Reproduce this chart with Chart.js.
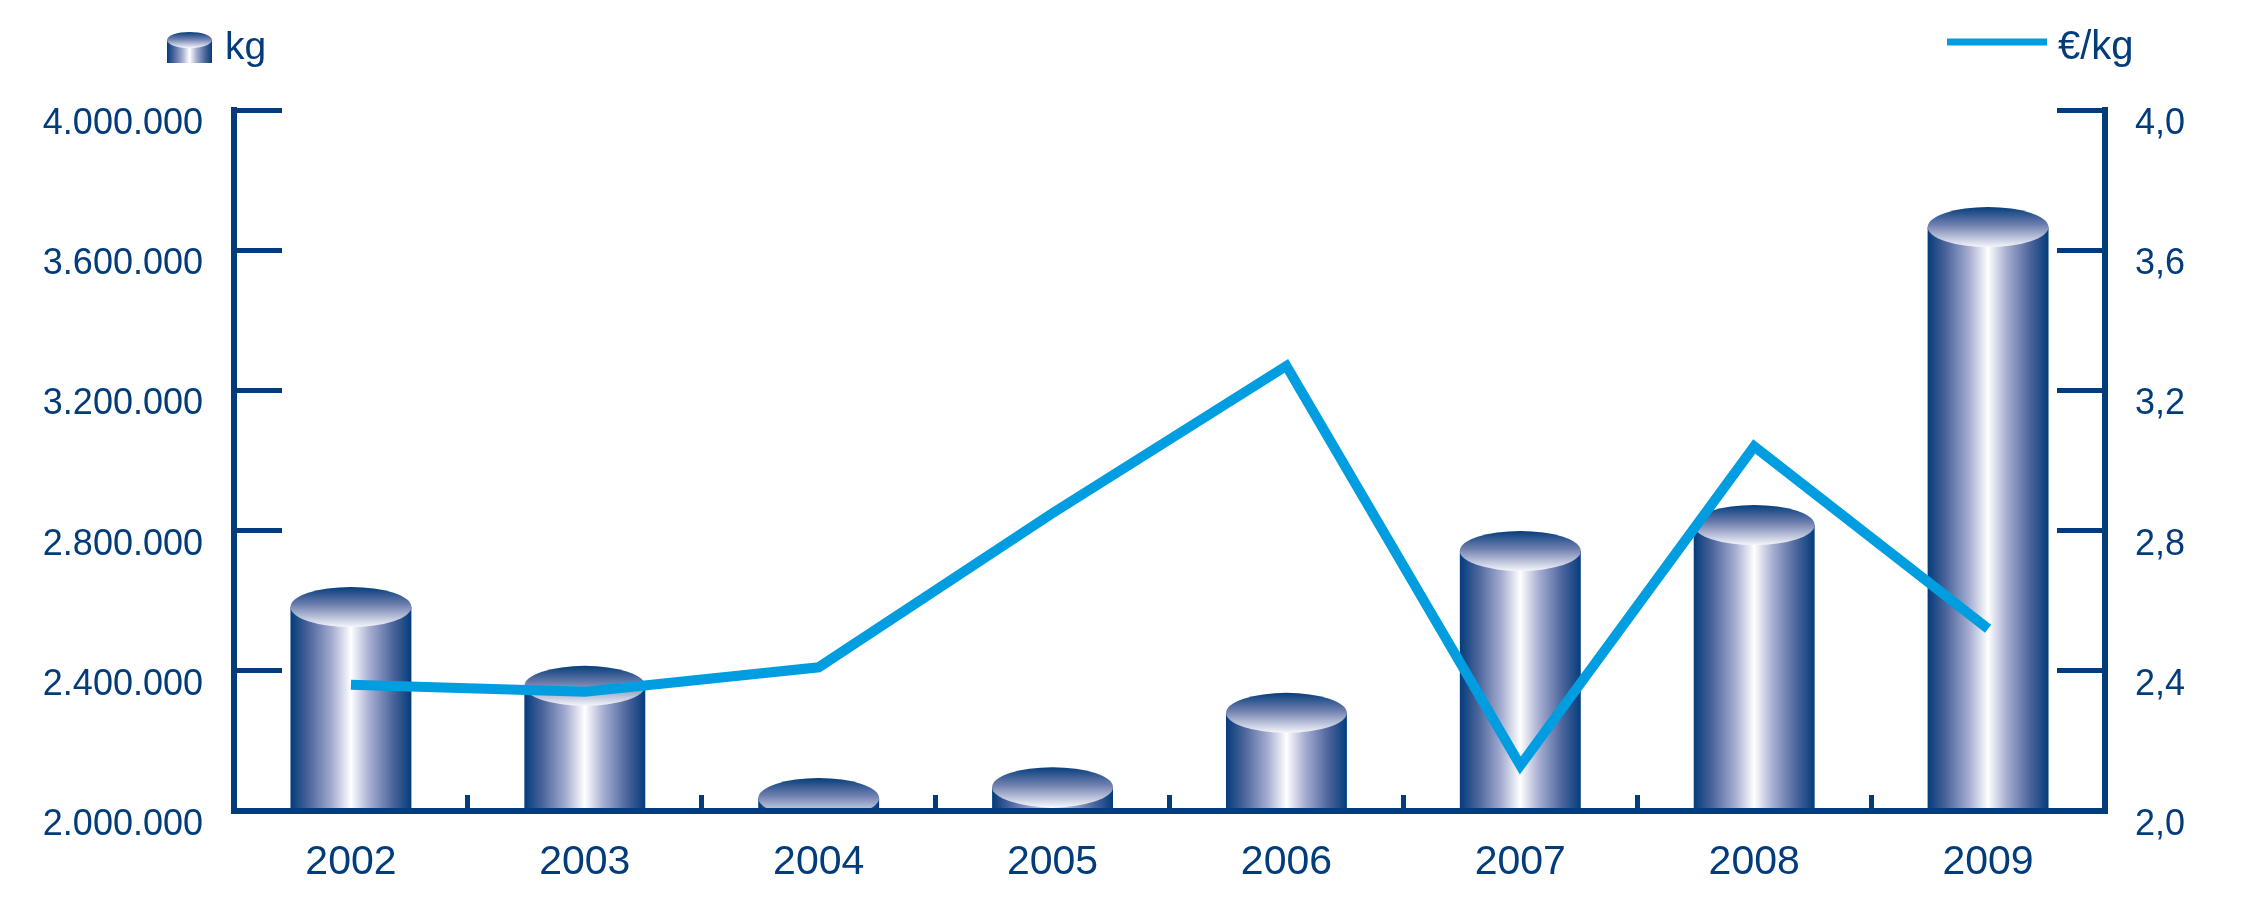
<!DOCTYPE html>
<html>
<head>
<meta charset="utf-8">
<script src="https://cdn.jsdelivr.net/npm/chart.js@4/dist/chart.umd.min.js"></script>
<style>
  html, body { margin: 0; padding: 0; background: #ffffff; }
  #wrap { width: 2250px; height: 901px; }
</style>
</head>
<body>
<div id="wrap"><canvas id="myChart" width="2250" height="901"></canvas></div>
<script>
// ===========================
// DATA
// ===========================
const years = ["2002", "2003", "2004", "2005", "2006", "2007", "2008", "2009"];
const kgValues = [2582000, 2357000, 2037000, 2068000, 2280000, 2742000, 2816000, 3666000];
const pricePerKg = [2.36, 2.34, 2.41, 2.85, 3.27, 2.13, 3.04, 2.52];

const kgTicks = [2000000, 2400000, 2800000, 3200000, 3600000, 4000000];
const priceTicks = [2.0, 2.4, 2.8, 3.2, 3.6, 4.0];

const kgLabel = "kg";
const priceLabel = "€/kg";

// ===========================
// STYLE
// ===========================
const NAVY = "#033c7b";
const CYAN = "#009ee0";
const FONT = "'Liberation Sans', Arial, sans-serif";

// 4000000 -> "4.000.000"
function formatDots(v) {
    return String(Math.round(v)).replace(/\B(?=(\d{3})+(?!\d))/g, ".");
}

// 2.4 -> "2,4"
function formatComma(v) {
    return v.toFixed(1).replace(".", ",");
}

// fixed axis sizes so the plot area lands where the original has it
function fixBox(s, size) {
    if (s.isHorizontal()) s.height = size; else s.width = size;
    s.paddingTop = 0;
    s.paddingBottom = 0;
    s.paddingLeft = 0;
    s.paddingRight = 0;
}

// DRAW ONE SHADED CYLINDER (body + top ellipse)
function drawCylinder(ctx, left, top, w, h, ry) {
    let g = ctx.createLinearGradient(left, 0, left + w, 0);
    g.addColorStop(0, "#033c7b");
    g.addColorStop(0.15, "#4b649b");
    g.addColorStop(0.34, "#a3abcf");
    g.addColorStop(0.5, "#ffffff");
    g.addColorStop(0.66, "#a3abcf");
    g.addColorStop(0.85, "#4b649b");
    g.addColorStop(1, "#033c7b");
    ctx.fillStyle = g;
    ctx.fillRect(left, top, w, h);

    let eg = ctx.createLinearGradient(0, top - ry, 0, top + ry);
    eg.addColorStop(0, "#063e7c");
    eg.addColorStop(0.45, "#7080af");
    eg.addColorStop(1, "#f5f6fb");
    ctx.fillStyle = eg;
    ctx.beginPath();
    ctx.ellipse(left + w / 2, top, w / 2, ry, 0, 0, Math.PI * 2);
    ctx.fill();
}

// bars are laid out by chart.js, drawn here as cylinders
const cylinderPlugin = {
    id: "cylinders",
    afterDatasetDraw(chart, args) {
        if (args.index !== 0) return;
        const ctx = chart.ctx;
        const area = chart.chartArea;
        ctx.save();
        ctx.beginPath();
        ctx.rect(area.left, 0, area.right - area.left, area.bottom - 3);
        ctx.clip();
        args.meta.data.forEach(bar => {
            const p = bar.getProps(["x", "y", "base", "width"], true);
            drawCylinder(ctx, p.x - p.width / 2, p.y, p.width, p.base - 3 - p.y, 20);
        });
        ctx.restore();
    }
};

// legend: cylinder + "kg" top left, line + "€/kg" top right
const legendPlugin = {
    id: "customLegend",
    afterDraw(chart) {
        const ctx = chart.ctx;
        ctx.save();
        drawCylinder(ctx, 167, 40, 45, 23, 8);

        ctx.fillStyle = NAVY;
        ctx.font = "39px " + FONT;
        ctx.textBaseline = "alphabetic";
        ctx.textAlign = "left";
        ctx.fillText(chart.data.datasets[0].label, 225, 59);

        ctx.strokeStyle = CYAN;
        ctx.lineWidth = 7;
        ctx.beginPath();
        ctx.moveTo(1947, 42);
        ctx.lineTo(2047, 42);
        ctx.stroke();

        ctx.font = "40px " + FONT;
        ctx.fillText(chart.data.datasets[1].label, 2058, 59);
        ctx.restore();
    }
};

// =============== CHART ===============
function plotGraph() {
    let ctx = document.getElementById("myChart").getContext("2d");

    new Chart(ctx, {
        type: "bar",
        data: {
            labels: years,
            datasets: [{
                type: "bar",
                label: kgLabel,
                data: kgValues,
                yAxisID: "y",
                backgroundColor: "rgba(0,0,0,0)",
                borderWidth: 0,
                categoryPercentage: 1,
                barPercentage: 0.517,
                order: 2
            }, {
                type: "line",
                label: priceLabel,
                data: pricePerKg,
                yAxisID: "y1",
                borderColor: CYAN,
                borderWidth: 10,
                borderJoinStyle: "miter",
                borderCapStyle: "butt",
                tension: 0,
                fill: false,
                pointRadius: 0,
                order: 1
            }]
        },
        options: {
            responsive: false,
            animation: false,
            devicePixelRatio: 1,
            layout: { padding: { top: 110, left: 0, right: 0, bottom: 0 } },
            plugins: {
                legend: { display: false },
                tooltip: { enabled: false }
            },
            scales: {
                x: {
                    offset: true,
                    afterFit: s => fixBox(s, 90),
                    border: { display: true, color: NAVY, width: 6 },
                    grid: {
                        offset: true,
                        drawOnChartArea: false,
                        drawTicks: true,
                        tickLength: -16,
                        tickWidth: 5,
                        tickColor: NAVY,
                        color: NAVY
                    },
                    ticks: {
                        color: NAVY,
                        font: { family: FONT, size: 41 },
                        padding: 43,
                        maxRotation: 0
                    }
                },
                y: {
                    position: "left",
                    min: kgTicks[0],
                    max: kgTicks[kgTicks.length - 1],
                    afterFit: s => fixBox(s, 234),
                    afterBuildTicks: s => { s.ticks = kgTicks.map(v => ({ value: v })); },
                    border: { display: true, color: NAVY, width: 6 },
                    grid: {
                        drawOnChartArea: false,
                        drawTicks: true,
                        tickLength: -48,
                        tickWidth: 5,
                        tickColor: NAVY,
                        color: NAVY
                    },
                    ticks: {
                        color: NAVY,
                        font: { family: FONT, size: 36 },
                        padding: 79,
                        labelOffset: 14,
                        callback: v => formatDots(v)
                    }
                },
                y1: {
                    position: "right",
                    min: priceTicks[0],
                    max: priceTicks[priceTicks.length - 1],
                    afterFit: s => fixBox(s, 145),
                    afterBuildTicks: s => { s.ticks = priceTicks.map(v => ({ value: v })); },
                    border: { display: true, color: NAVY, width: 6 },
                    grid: {
                        drawOnChartArea: false,
                        drawTicks: true,
                        tickLength: -48,
                        tickWidth: 5,
                        tickColor: NAVY,
                        color: NAVY
                    },
                    ticks: {
                        color: NAVY,
                        font: { family: FONT, size: 36 },
                        padding: 78,
                        labelOffset: 14,
                        callback: v => formatComma(v)
                    }
                }
            }
        },
        plugins: [cylinderPlugin, legendPlugin]
    });
}

document.addEventListener("DOMContentLoaded", function () {
    plotGraph();
});
</script>
</body>
</html>
